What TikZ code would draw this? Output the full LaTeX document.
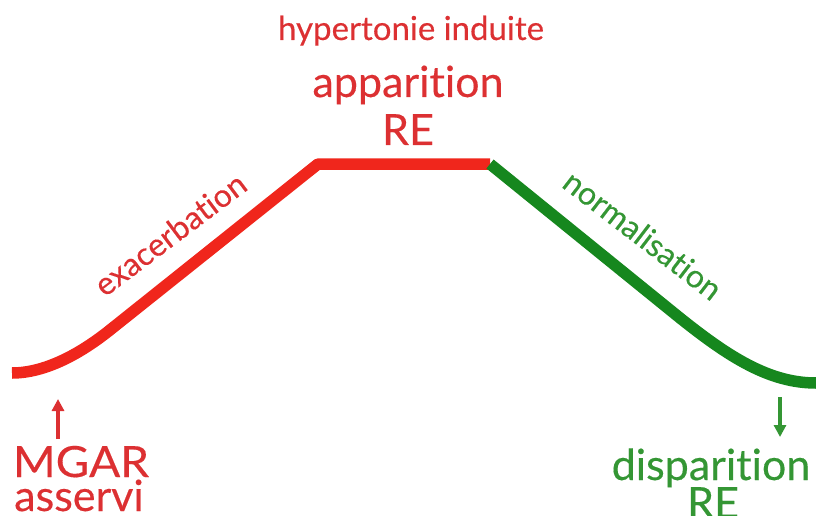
\documentclass[tikz,border=0pt]{standalone}
\usepackage{fontspec}
\setmainfont{Lato}[Ligatures={NoCommon}, FakeBold=0.3]
\usetikzlibrary{arrows.meta}
\definecolor{linered}{RGB}{240,38,28}
\definecolor{textred}{RGB}{220,48,50}
\definecolor{linegreen}{RGB}{22,135,30}
\definecolor{textgreen}{RGB}{52,150,52}
\tikzset{
  curve/.style={line width=11.5pt, line join=round},
  lbl/.style={inner sep=0pt, anchor=base},
  big/.style={font=\fontsize{43}{46}\selectfont},
  mid/.style={font=\fontsize{33}{35}\selectfont},
  slope/.style={inner sep=0pt, font=\fontsize{32}{33}\selectfont},
  marker/.style={line width=3.2pt, -{Triangle[length=12pt,width=12pt]}}
}
\begin{document}
\begin{tikzpicture}[x=1pt,y=-1pt]
\useasboundingbox (0,0) rectangle (816,516);
% curve
\coordinate (startL) at (12,373);
\coordinate (kneeL) at (110,330);
\coordinate (topL) at (318,164);
\coordinate (topR) at (490,164);
\coordinate (kneeR) at (680,318);
\coordinate (endR) at (816,383);
\draw[curve, linered] (startL) .. controls (45,373) and (80,354) .. (kneeL) -- (topL) -- (topR);
\draw[curve, linegreen] (topR) -- (kneeR) .. controls (730,358) and (770,383) .. (endR);
% top labels
\node[lbl, mid, textred] (hyp) at (411,40) {hypertonie induite};
\node[lbl, big, textred] (app) at (408,97) {apparition};
\node[lbl, big, textred] (re1) at (408,145) {RE};
% slope labels
\node[slope, textred, rotate=37] (exa) at (170,234) {exacerbation};
\node[slope, textgreen, rotate=-37.5] (nor) at (643,235) {normalisation};
% bottom left
\node[lbl, big, textred, xscale=1.07] (mgar) at (81,477) {MGAR};
\node[lbl, big, textred] (ass) at (79,511) {asservi};
\coordinate (aL1) at (58,439);
\coordinate (aL2) at (58,399);
\draw[marker, textred] (aL1) -- (aL2);
% bottom right
\node[lbl, big, textgreen] (dis) at (711,480) {disparition};
\node[lbl, big, textgreen] (re2) at (713,518) {RE};
\coordinate (aR1) at (780,397);
\coordinate (aR2) at (780,437);
\draw[marker, textgreen] (aR1) -- (aR2);
\end{tikzpicture}
\end{document}
